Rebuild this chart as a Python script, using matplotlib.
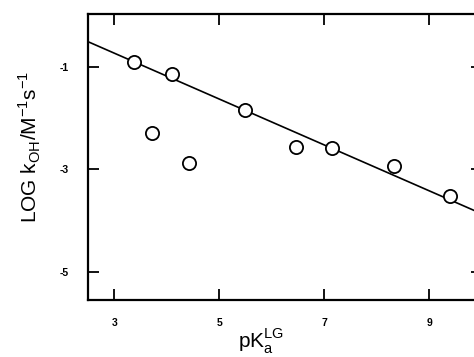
import matplotlib.pyplot as plt

# data
pka = [3.38, 4.10, 3.72, 4.42, 5.49, 6.46, 7.14, 8.32, 9.40]
log_koh = [-0.90, -1.14, -2.29, -2.88, -1.84, -2.57, -2.59, -2.94, -3.53]

# fitted line ends
fit_x = [2.5, 10.0]
fit_y = [-0.51, -3.87]

xticks = [3, 5, 7, 9]
yticks = [-1, -3, -5]

plt.rcParams['font.family'] = ['Liberation Sans', 'DejaVu Sans']
plt.rcParams['mathtext.fontset'] = 'custom'
plt.rcParams['mathtext.rm'] = 'Liberation Sans'

fig = plt.figure(figsize=(4.74, 3.57), dpi=100)
ax = fig.add_axes([88 / 474, 57 / 357, 394 / 474, 286 / 357])

ax.plot(fit_x, fit_y, color='black', lw=1.2, zorder=1)
ax.plot(pka, log_koh, 'o', ms=9.5, mfc='white', mec='black', mew=1.3, zorder=2)

ax.set_xlim(2.5, 10.0)
ax.set_ylim(-5.55, 0.03)
ax.set_xticks(xticks)
ax.set_yticks(yticks)
ax.set_xticklabels([str(t) for t in xticks], fontweight='bold', fontsize=7.5)
ax.set_yticklabels([str(t) for t in yticks], fontweight='bold', fontsize=7.5)
ax.tick_params(direction='in', length=8, width=1.3, top=True, right=True)
ax.tick_params(axis='x', pad=13)
ax.tick_params(axis='y', pad=14)
for s in ax.spines.values():
    s.set_linewidth(1.6)

ax.set_ylabel(r'LOG k$_{\mathrm{OH}}$/M$^{-1}$s$^{-1}$', fontsize=15)
ax.yaxis.set_label_coords(-0.115, 0.535)
ax.set_xlabel(r'pK$_{\mathrm{a}}^{\mathrm{LG}}$', fontsize=15)
ax.xaxis.set_label_coords(0.44, -0.097)

fig.savefig('out.png', dpi=100)
